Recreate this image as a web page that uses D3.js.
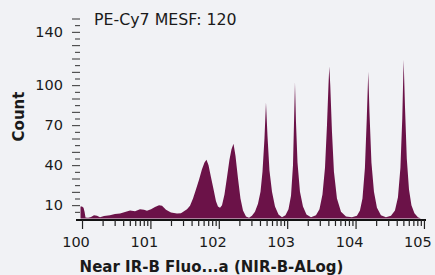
<!DOCTYPE html>
<html><head><meta charset="utf-8">
<script src="https://cdn.jsdelivr.net/npm/d3@7/dist/d3.min.js"></script>
<style>
html,body{margin:0;padding:0;background:#f1f2f5;}
svg{display:block;}
text{font-family:"DejaVu Sans",Verdana,sans-serif;fill:#1a1a1a;}
</style></head>
<body><svg id="c" width="435" height="275"></svg>
<script>
// log10 of fluorescence (decade exponent) and counts
const logExp = [-0.022,0,0.022,0.037,0.051,0.088,0.132,0.175,0.219,0.263,0.322,0.409,0.482,0.556,0.629,0.702,0.775,0.848,0.906,0.950,1.009,1.067,1.126,1.170,1.228,1.301,1.389,1.447,1.491,1.535,1.579,1.623,1.667,1.711,1.754,1.791,1.820,1.850,1.886,1.923,1.959,1.988,2.018,2.047,2.083,2.120,2.156,2.186,2.215,2.244,2.281,2.317,2.354,2.398,2.442,2.485,2.529,2.573,2.610,2.639,2.668,2.690,2.712,2.741,2.778,2.822,2.873,2.924,2.975,3.019,3.056,3.085,3.099,3.114,3.129,3.151,3.187,3.231,3.282,3.348,3.421,3.472,3.516,3.553,3.582,3.604,3.616,3.630,3.655,3.684,3.728,3.787,3.860,3.947,4.020,4.064,4.101,4.137,4.164,4.186,4.203,4.232,4.269,4.313,4.371,4.444,4.518,4.576,4.620,4.656,4.683,4.703,4.722,4.749,4.781,4.817,4.861,4.912,4.956];
const counts = [9,9,8,5,0.8,0.5,1.2,2.5,2,1,1.8,2.5,3.3,3.8,4.8,6,5.5,7,6.5,5.8,7,8.7,10,9.5,6.5,4.5,3.7,4,5.5,7,9.5,15,22,29,37,42,44,40,31,22,13,9,8,10,18,31,44,52,56,47,30,15,6,1.5,0.5,2,5,11,20,35,60,87,62,36,20,9,3,1,2.5,7,17,40,70,102,72,42,20,9,3,1,2.5,7,18,38,70,100,114,100,65,35,15,5,1.5,1,2,6,15,38,75,110,80,42,20,8,2.5,1,2,6,16,38,75,119,85,45,22,10,4,1,0];

const xMajorExp = [0,1,2,3,4,5];
const xTickLabels = ["100","101","102","103","104","105"];
const yTickLabelValues = [10,40,70,100,140];
const yTickLabels = ["10","40","70","100","140"];
const title = "Near IR-B Fluo...a (NIR-B-ALog)";
const yTitle = "Count";
const note = "PE-Cy7 MESF: 120";

const svg = d3.select("#c");
const fill = "#6b1248";

const x = d3.scaleLog().domain([Math.pow(10,-0.088), Math.pow(10,5.03)]).range([76,426]);
const y = d3.scaleLinear().domain([0,150]).range([218.5,18.5]);

const data = logExp.map((e,i)=>({v:Math.pow(10,e), c:counts[i]}));

svg.append("path")
  .datum(data)
  .attr("fill", fill)
  .attr("d", d3.area().x(d=>x(d.v)).y0(y(0)).y1(d=>y(d.c)));

// x axis
const minor = [];
for (let e=0;e<5;e++) for (let m=2;m<=9;m++) minor.push(m*Math.pow(10,e));
const gx = svg.append("g").attr("transform","translate(0,220)");
gx.append("line").attr("x1",76).attr("x2",426).attr("y1",0).attr("y2",0)
  .attr("stroke","#111").attr("stroke-width",2);
const xMinorAxis = d3.axisBottom(x).tickValues(minor).tickSize(6).tickFormat("");
const gMin = gx.append("g").call(xMinorAxis);
const xMajorAxis = d3.axisBottom(x).tickValues(xMajorExp.map(e=>Math.pow(10,e))).tickSize(9)
  .tickPadding(5).tickFormat((d,i)=>xTickLabels[i]);
const gMaj = gx.append("g").call(xMajorAxis);
[gMin,gMaj].forEach(g=>{
  g.select(".domain").remove();
  g.selectAll(".tick line").attr("stroke","#222").attr("stroke-width",1.2);
});
gMaj.selectAll(".tick text").attr("font-size",14.5).attr("font-family","DejaVu Sans")
  .attr("fill","#1a1a1a").attr("dy","0.9em").attr("dx",-6.5);

// y axis (no domain line)
const yAll = d3.range(5,151,5);
const gy = svg.append("g").attr("transform","translate(80,0)");
const yMinorAxis = d3.axisLeft(y).tickValues(yAll.filter(v=>v%10!==0)).tickSize(5).tickFormat("");
const yMajorAxis = d3.axisLeft(y).tickValues(yAll.filter(v=>v%10===0)).tickSize(8).tickPadding(9)
  .tickFormat(v=>{const i=yTickLabelValues.indexOf(v);return i>=0?yTickLabels[i]:"";});
const gyMin = gy.append("g").call(yMinorAxis);
const gyMaj = gy.append("g").call(yMajorAxis);
[gyMin,gyMaj].forEach(g=>{
  g.select(".domain").remove();
  g.selectAll(".tick line").attr("stroke","#333").attr("stroke-width",1);
});
gyMaj.selectAll(".tick text").attr("font-size",14.5).attr("font-family","DejaVu Sans").attr("fill","#1a1a1a");

// titles
svg.append("text").attr("x",211.5).attr("y",272).attr("text-anchor","middle")
  .attr("font-size",15).attr("font-weight","bold").text(title);
svg.append("text").attr("transform","translate(24,116.5) rotate(-90)").attr("text-anchor","middle")
  .attr("font-size",15).attr("font-weight","bold").text(yTitle);
svg.append("text").attr("x",94).attr("y",25).attr("font-size",15.8).text(note);
</script></body></html>
